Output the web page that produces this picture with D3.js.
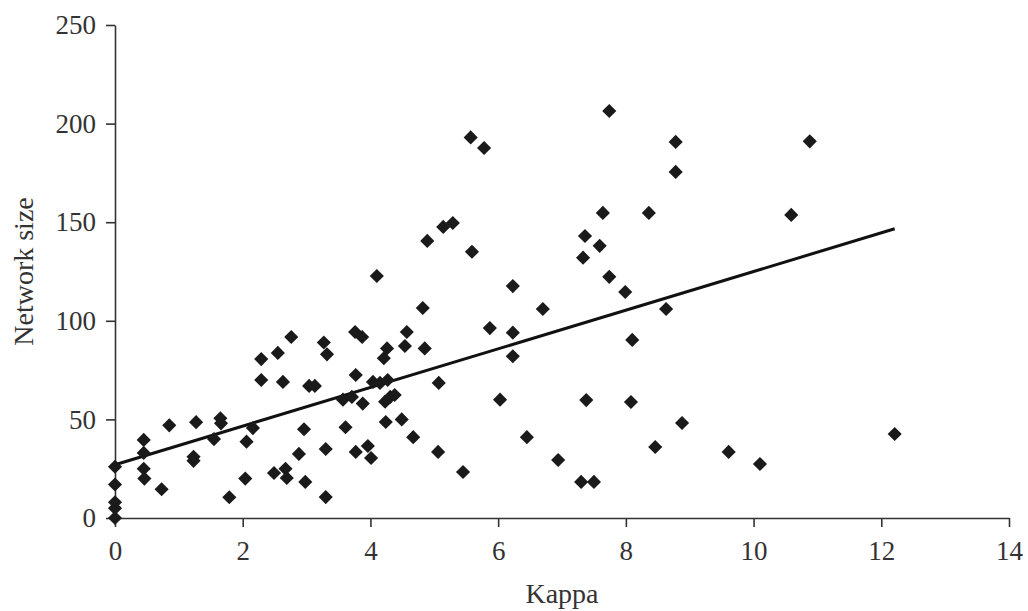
<!DOCTYPE html>
<html>
<head>
<meta charset="utf-8">
<script src="https://cdn.jsdelivr.net/npm/d3@7"></script>
<style>
  body { margin: 0; background: #fff; }
  text { font-family: "Liberation Serif", "Times New Roman", serif; fill: #333; }
</style>
</head>
<body>
<div id="chart"></div>
<script>
// kappa values (x) and network sizes (y)
var kappa = [0, 0, 0, 0, 0,
  0.45, 0.45, 0.45, 0.46, 0.73, 0.85, 1.27, 1.23, 1.23, 1.55, 1.65, 1.66, 1.79,
  2.04, 2.06, 2.16, 2.29, 2.29, 2.49, 2.55, 2.63, 2.67, 2.69, 2.76, 2.88, 2.98,
  2.96, 3.04, 3.13, 3.27, 3.32, 3.30, 3.30, 3.57, 3.71, 3.61, 3.76, 3.87, 3.77,
  3.88, 3.77, 3.96, 4.01, 4.04, 4.15, 4.27, 4.10, 4.21, 4.26, 4.23, 4.31, 4.38,
  4.24, 4.49, 4.54, 4.57, 4.67, 4.82, 4.85, 4.89, 5.06, 5.07, 5.14, 5.29, 5.45,
  5.57, 5.59, 5.78, 5.87, 6.03, 6.23, 6.23, 6.23, 6.45, 6.70, 6.94, 7.30, 7.50,
  7.33, 7.36, 7.38, 7.59, 7.64, 7.74, 7.74, 7.99, 8.08, 8.10, 8.36, 8.46, 8.63,
  8.78, 8.78, 8.88, 9.61, 10.10, 10.59, 10.88, 12.21];
var netSize = [0, 5, 8, 17, 26,
  39.6, 33, 25, 20, 14.6, 47, 48.6, 31, 29, 40, 50.6, 48, 10.5,
  20, 38.7, 45.6, 80.6, 70, 22.8, 83.7, 69, 25, 20.3, 91.8, 32.5, 18.3,
  45, 67, 67, 89, 83, 35, 10.6, 60, 61.4, 46, 94.3, 91.8, 72.5,
  58, 33.5, 36.5, 30.4, 69, 68.5, 70, 122.7, 81, 86, 59, 61.4, 62.4,
  48.7, 50, 87.2, 94.3, 41, 106.5, 86, 140.5, 33.5, 68.5, 147.6, 149.6, 23.3,
  193, 135, 187.6, 96.3, 60, 117.6, 94, 82, 41, 106, 29.4, 18.3, 18.3,
  132, 143, 59.8, 138, 154.7, 206.4, 122.3, 114.6, 58.8, 90.3, 154.7, 36, 106,
  190.7, 175.5, 48.2, 33.5, 27.4, 153.7, 191, 42.6];

// fitted trend line as shown in the figure
var trendX = [0, 12.21];
var trendIntercept = 27;
var trendSlope = 9.8;

var xTicks = [0, 2, 4, 6, 8, 10, 12, 14];
var yTicks = [0, 50, 100, 150, 200, 250];

var width = 1028, height = 611;
var margin = {left: 115, right: 19, top: 25, bottom: 93};

var svg = d3.select("#chart").append("svg")
  .attr("width", width).attr("height", height);

var x = d3.scaleLinear().domain([0, 14]).range([margin.left, width - margin.right]);
var y = d3.scaleLinear().domain([0, 250]).range([height - margin.bottom, margin.top]);

// axes
var xAxis = svg.append("g")
  .attr("transform", "translate(0," + y(0) + ")")
  .call(d3.axisBottom(x).tickValues(xTicks).tickSize(9).tickPadding(14).tickSizeOuter(0));
var yAxis = svg.append("g")
  .attr("transform", "translate(" + x(0) + ",0)")
  .call(d3.axisLeft(y).tickValues(yTicks).tickSize(9).tickPadding(10).tickSizeOuter(0));

[xAxis, yAxis].forEach(function(a) {
  a.select(".domain").attr("stroke", "#333").attr("stroke-width", 1.6);
  a.selectAll(".tick line").attr("stroke", "#333").attr("stroke-width", 1.6);
  a.selectAll(".tick text").style("font-size", "27px")
    .style("font-family", "Liberation Serif, serif").attr("fill", "#3a3a3a");
});

// trend line
svg.append("line")
  .attr("x1", x(trendX[0]))
  .attr("y1", y(trendIntercept + trendSlope * trendX[0]))
  .attr("x2", x(trendX[1]))
  .attr("y2", y(trendIntercept + trendSlope * trendX[1]))
  .attr("stroke", "#111")
  .attr("stroke-width", 3);

// diamonds
var diamond = d3.symbol().type(d3.symbolSquare).size(100);
svg.append("g").selectAll("path")
  .data(kappa.map(function(k, i) { return [k, netSize[i]]; }))
  .enter().append("path")
    .attr("d", diamond)
    .attr("transform", function(d) { return "translate(" + x(d[0]) + "," + y(d[1]) + ") rotate(45)"; })
    .attr("fill", "#1a1a1a");

// axis titles
svg.append("text")
  .attr("x", (x(0) + x(14)) / 2)
  .attr("y", 603)
  .attr("text-anchor", "middle")
  .style("font-size", "28px")
  .text("Kappa");
svg.append("text")
  .attr("transform", "translate(33," + ((y(0) + y(250)) / 2) + ") rotate(-90)")
  .attr("text-anchor", "middle")
  .style("font-size", "28px")
  .text("Network size");
</script>
</body>
</html>
